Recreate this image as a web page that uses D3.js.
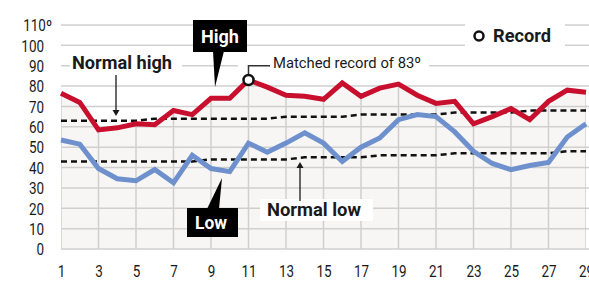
<!DOCTYPE html>
<html><head><meta charset="utf-8">
<script src="https://cdn.jsdelivr.net/npm/d3@7"></script>
<style>body{margin:0;background:#fff}svg{display:block}</style>
</head><body>
<svg id="c" width="589" height="291"></svg>
<script>
const days = [1,2,3,4,5,6,7,8,9,10,11,12,13,14,15,16,17,18,19,20,21,22,23,24,25,26,27,28,29];
const high = [76.5,72,58.5,59.5,61.5,61,68,66,74,74,83,79.5,75.5,75,73.5,81.5,75,79,81,75.5,71.5,72.5,61.5,65,69,63.5,72.5,78,77];
const low = [53.5,51.5,39.5,34.5,33.5,39,32.5,46,39.5,38,52,47.5,52,57,52,43,50,54.5,63.5,66,65,57.5,48,42,39,41,42.5,55,61.5];
const normalHigh = [63,63,63,63,63,64,64,64,64,64,64,64,65,65,65,65,66,66,66,66,66,67,67,67,67,68,68,68,68];
const normalLow = [43,43,43,43,43,43,43,43,44,44,44,44,44,45,45,45,45,46,46,46,46,47,47,47,47,47,47,48,48];
const xTicks = [1,3,5,7,9,11,13,15,17,19,21,23,25,27,29];
const yTicks = [0,10,20,30,40,50,60,70,80,90,100,110];
const recordDay = 11;
const recordLabel = "Matched record of 83º";

const FONT = "Roboto, 'Noto Sans', sans-serif";
const RED = '#c8102e', BLUE = '#6e91cd', GRID = '#cfcfcf', FILL = '#f7f6f4', INK = '#1a1a1a';

const svg = d3.select('#c').attr('font-family', FONT);
const x = d3.scaleLinear().domain([1, 29]).range([61, 586]);
const y = d3.scaleLinear().domain([0, 110]).range([249, 25]);

function condense(sel, f) {
  sel.each(function () {
    const w = this.getComputedTextLength();
    d3.select(this).attr('textLength', w * f).attr('lengthAdjust', 'spacingAndGlyphs');
  });
}
function fit(sel, w) { sel.attr('textLength', w).attr('lengthAdjust', 'spacingAndGlyphs'); }

// area under the high line
const area = d3.area().x((d, i) => x(days[i])).y0(y(0)).y1(d => y(d));
svg.append('defs').append('clipPath').attr('id', 'under').append('path').attr('d', area(high));
svg.append('path').attr('d', area(high)).attr('fill', FILL);

// vertical grid (clipped to the area)
svg.append('g').attr('clip-path', 'url(#under)')
  .selectAll('line').data(xTicks).join('line')
  .attr('x1', d => x(d)).attr('x2', d => x(d))
  .attr('y1', y(0)).attr('y2', y(110))
  .attr('stroke', GRID).attr('stroke-width', 1.5);

// horizontal grid
svg.append('g').selectAll('line').data(yTicks).join('line')
  .attr('x1', x(1)).attr('x2', 589)
  .attr('y1', d => y(d)).attr('y2', d => y(d))
  .attr('stroke', GRID).attr('stroke-width', 1.5);

// white knock-outs behind labels
const knock = [[70, 52, 112, 20], [238, 57, 191, 15], [465, 18, 100, 33], [260, 199, 113, 22]];
svg.append('g').selectAll('rect').data(knock).join('rect')
  .attr('x', d => d[0]).attr('y', d => d[1]).attr('width', d => d[2]).attr('height', d => d[3])
  .attr('fill', '#fff');

// normals
const line = d3.line().x((d, i) => x(days[i])).y(d => y(d));
[normalHigh, normalLow].forEach(s => {
  svg.append('path').attr('d', line(s)).attr('fill', 'none')
    .attr('stroke', '#111').attr('stroke-width', 2.5).attr('stroke-dasharray', '6,4');
});

// observed lines
svg.append('path').attr('d', line(low)).attr('fill', 'none').attr('stroke', BLUE).attr('stroke-width', 5);
svg.append('path').attr('d', line(high)).attr('fill', 'none').attr('stroke', RED).attr('stroke-width', 5);

// record marker + leader
const rx = x(recordDay), ry = y(high[recordDay - 1]);
svg.append('path').attr('d', `M${rx},${ry - 6}V${y(90)}H270`).attr('fill', 'none').attr('stroke', '#333').attr('stroke-width', 1.5);
svg.append('circle').attr('cx', rx).attr('cy', ry).attr('r', 5).attr('fill', '#fff').attr('stroke', '#111').attr('stroke-width', 2.5);
const rec = svg.append('text').attr('x', 273).attr('y', 68).attr('font-size', 15.5).attr('fill', INK).text(recordLabel);
fit(rec, 148);

// legend
svg.append('circle').attr('cx', 479).attr('cy', 36).attr('r', 4.5).attr('fill', '#fff').attr('stroke', '#111').attr('stroke-width', 2.5);
fit(svg.append('text').attr('x', 493).attr('y', 42).attr('font-size', 18).attr('font-weight', 700).attr('fill', INK).text('Record'), 58);

// High callout
svg.append('polygon').attr('points', '213,51 224,51 215,87').attr('fill', '#000');
svg.append('rect').attr('x', 193).attr('y', 20).attr('width', 54).attr('height', 32).attr('fill', '#000');
fit(svg.append('text').attr('x', 220).attr('y', 43).attr('text-anchor', 'middle').attr('font-size', 19).attr('font-weight', 700).attr('fill', '#fff').text('High'), 38);

// Low callout
svg.append('polygon').attr('points', '207,209 219,209 222,178').attr('fill', '#000');
svg.append('rect').attr('x', 187).attr('y', 208).attr('width', 51).attr('height', 29).attr('fill', '#000');
fit(svg.append('text').attr('x', 211).attr('y', 229).attr('text-anchor', 'middle').attr('font-size', 18).attr('font-weight', 700).attr('fill', '#fff').text('Low'), 32);

// Normal labels + arrows
fit(svg.append('text').attr('x', 72).attr('y', 69).attr('font-size', 19).attr('font-weight', 700).attr('fill', INK).text('Normal high'), 100);
fit(svg.append('text').attr('x', 267).attr('y', 216).attr('font-size', 18).attr('font-weight', 700).attr('fill', INK).text('Normal low'), 94);
svg.append('line').attr('x1', 116).attr('x2', 116).attr('y1', 75).attr('y2', 111).attr('stroke', INK).attr('stroke-width', 1.3);
svg.append('polygon').attr('points', '112.5,110 119.5,110 116,116').attr('fill', INK);
svg.append('line').attr('x1', 300).attr('x2', 300).attr('y1', 201).attr('y2', 167).attr('stroke', INK).attr('stroke-width', 1.3);
svg.append('polygon').attr('points', '296.5,168 303.5,168 300,162').attr('fill', INK);

// axes
const yAxis = svg.append('g').attr('transform', 'translate(44,0)')
  .call(d3.axisLeft(y).tickValues(yTicks).tickSize(0).tickPadding(0)
    .tickFormat(d => d === 110 ? d + 'º' : d));
yAxis.attr('font-family', FONT).attr('font-size', 16);
yAxis.select('.domain').remove();
yAxis.selectAll('text').attr('fill', INK).attr('dy', '0.36em');
condense(yAxis.selectAll('text'), 0.84);
yAxis.selectAll('text').filter(d => d === 110).attr('x', 8);

const xAxis = svg.append('g').attr('transform', 'translate(0,265)')
  .call(d3.axisBottom(x).tickValues(xTicks).tickSize(0).tickPadding(0));
xAxis.attr('font-family', FONT).attr('font-size', 16);
xAxis.select('.domain').remove();
xAxis.selectAll('text').attr('fill', INK).attr('y', 0).attr('dy', '0.75em');
condense(xAxis.selectAll('text'), 0.84);
</script>
</body></html>
